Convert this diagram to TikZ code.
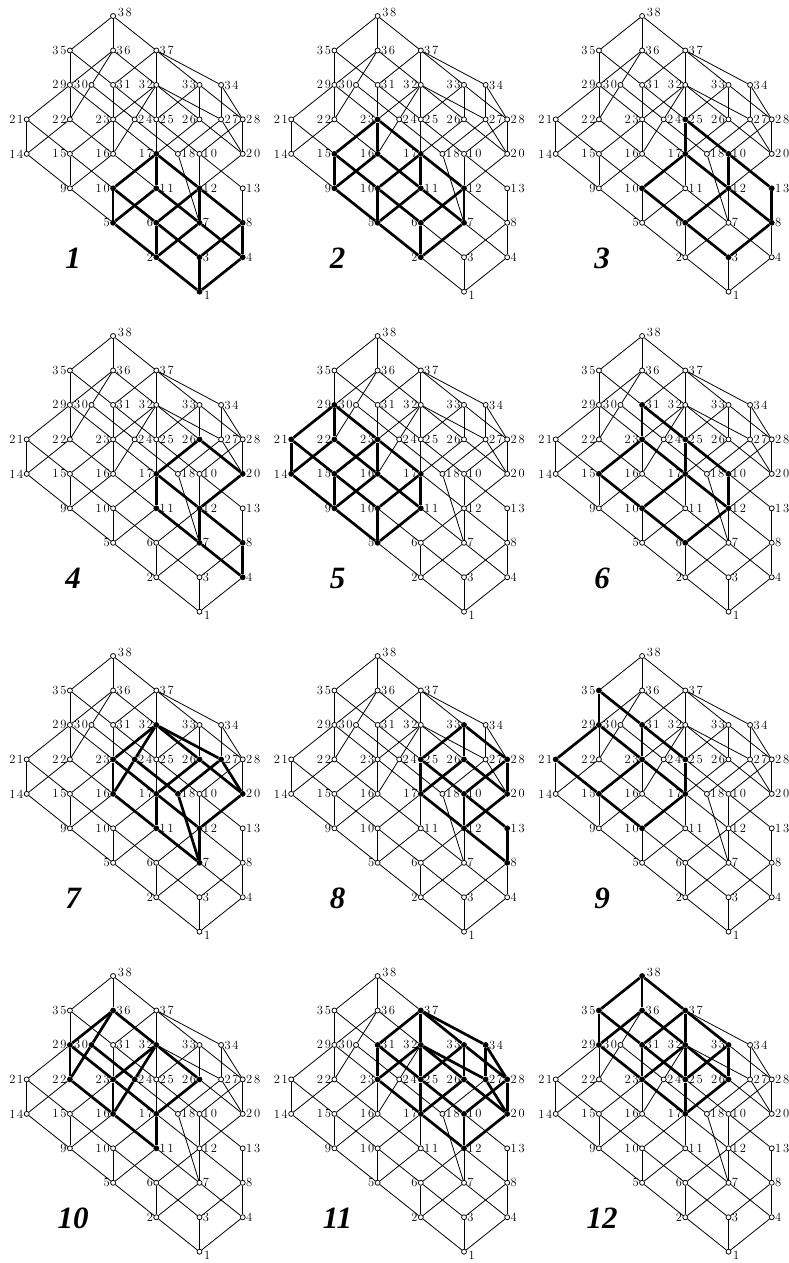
\documentclass[tikz,border=0pt]{standalone}
\usepackage{fontspec}
\newfontfamily\numfont{Liberation Serif}
\makeatletter
\def\ls#1{\ls@a#1\relax}
\def\ls@a#1#2{#1\ifx\relax#2\else\kern1.8pt\relax\expandafter\ls@a\expandafter#2\fi}
\def\lsx#1{\expandafter\ls\expandafter{#1}}
\def\nodetable{1/4/0/west/4.5/-3.7/1,2/3/1/east/-3.2/0/2,3/4/1/west/3.2/0/3,4/5/1/west/3.2/0/4,5/2/2/east/-3.2/0/5,6/3/2/east/-3.2/0/6,7/4/2/west/3.2/0/7,8/5/2/west/3.2/0/8,9/1/3/east/-3.2/0/9,10/2/3/east/-3.2/0/10,11/3/3/west/3.2/0/11,12/4/3/west/3.2/0/12,13/5/3/west/3.2/0/13,14/0/4/east/-3.2/0/14,15/1/4/east/-3.2/0/15,16/2/4/east/-3.2/0/16,17/3/4/east/-3.2/0/17,18/3.5/4/west/3.2/0/18,19/4/4/west/3.2/0/10,20/5/4/west/3.2/0/20,21/0/5/east/-3.2/0/21,22/1/5/east/-3.2/0/22,23/2/5/east/-3.2/0/23,24/2.5/5/west/3.2/0/24,25/3/5/west/3.2/0/25,26/4/5/east/-3.2/0/26,27/4.5/5/west/3.2/0/27,28/5/5/west/3.2/0/28,29/1/6/east/-3.2/0/29,30/1.5/6/east/-3.2/0/30,31/2/6/west/3.2/0/31,32/3/6/east/-3.2/0/32,33/4/6/east/-3.2/0/33,34/4.5/6/west/3.2/0/34,35/1/7/east/-3.2/0/35,36/2/7/west/3.2/0/36,37/3/7/west/3.2/0/37,38/2/8/west/4.5/4/38}
\def\edgelist{38/35,38/36,38/37,35/29,35/31,36/29,36/30,36/32,37/31,37/32,37/33,37/34,29/21,29/22,29/23,30/22,30/24,31/23,31/25,32/23,32/24,32/25,32/26,32/27,33/25,33/26,33/28,34/27,34/28,21/14,21/15,22/14,22/16,23/15,23/16,23/17,24/16,24/18,25/17,25/19,26/17,26/20,27/18,27/20,28/19,28/20,14/9,15/9,15/10,16/9,16/11,17/10,17/11,17/12,18/7,19/12,19/13,20/12,9/5,10/5,10/6,11/5,11/7,12/6,12/7,12/8,13/8,5/2,6/2,6/3,7/2,7/4,8/3,8/4,2/1,3/1,4/1}
\newcommand\lattice[5]{%
 \begin{scope}[shift={(#2,#3)}]
  \def\filled{,#5,}%
  \foreach \nd/\cl/\rw/\an/\ddx/\ddy/\tx in \nodetable {%
    \edef\mytmp{\noexpand\in@{,\nd,}{\filled}}\mytmp
    \ifin@
      \node[fillednode] (#1-\nd) at ({26.7+43.2*\cl},{291.7-34.46*\rw}) {};
    \else
      \node[hollownode] (#1-\nd) at ({26.7+43.2*\cl},{291.7-34.46*\rw}) {};
    \fi
  }
  \foreach \nd/\cl/\rw/\an/\ddx/\ddy/\tx in \nodetable {%
    \node[lbl,anchor=\an] (#1-\nd-l) at ([xshift=\ddx pt,yshift=\ddy pt]#1-\nd.center) {\lsx\tx};
  }
  \foreach \ea/\eb in \edgelist {%
    \edef\mytmp{\noexpand\in@{,\ea,}{\filled}}\mytmp
    \ifin@
      \edef\mytmp{\noexpand\in@{,\eb,}{\filled}}\mytmp
      \ifin@
        \draw[thickedge] (#1-\ea) -- (#1-\eb);
      \else
        \draw[thinedge] (#1-\ea) -- (#1-\eb);
      \fi
    \else
      \draw[thinedge] (#1-\ea) -- (#1-\eb);
    \fi
  }
  \node[numst] (#1-num) at (73,258) {#4};
 \end{scope}
}
\makeatother
\tikzset{
  hollownode/.style={circle,draw=black,fill=white,line width=0.75pt,inner sep=0pt,minimum size=5pt},
  fillednode/.style={circle,fill=black,inner sep=0pt,minimum size=5.8pt},
  thinedge/.style={line width=0.8pt},
  thickedge/.style={line width=2.7pt},
  lbl/.style={font=\fontsize{12.5}{13}\selectfont,inner sep=0pt},
  numst/.style={font={\numfont\fontsize{31}{33}\selectfont\bfseries\itshape},inner sep=0pt}
}
\begin{document}
\begin{tikzpicture}[x=1pt,y=-1pt]
\useasboundingbox (0,0) rectangle (788,1263);
\fill[white] (0,0) rectangle (788,1263);
\lattice{pA}{0}{0}{1}{1,2,3,4,5,6,7,8,10,11,12,17}
\lattice{pB}{264.5}{0}{2}{2,5,6,7,9,10,11,12,15,16,17,23}
\lattice{pC}{529}{0}{3}{3,6,8,10,12,13,17,19,25}
\lattice{pD}{0}{320}{4}{4,7,8,11,12,17,20,26}
\lattice{pE}{264.5}{320}{5}{5,9,10,11,14,15,16,17,21,22,23,29}
\lattice{pF}{529}{320}{6}{6,10,12,15,17,19,23,25,31}
\lattice{pG}{0}{640}{7}{7,11,12,16,17,18,20,23,24,26,27,32}
\lattice{pH}{264.5}{640}{8}{8,12,13,17,19,20,25,26,28,33}
\lattice{pI}{529}{640}{9}{10,15,17,21,23,25,29,31,35}
\lattice{pJ}{0}{960}{10}{11,16,17,22,23,24,26,29,30,32,36}
\lattice{pK}{264.5}{960}{11}{12,17,19,20,23,25,26,27,28,31,32,33,34,37}
\lattice{pL}{529}{960}{12}{17,23,25,26,29,31,32,33,35,36,37,38}
\end{tikzpicture}
\end{document}
